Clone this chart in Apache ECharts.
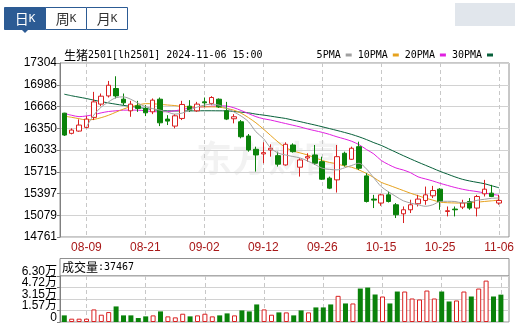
<!DOCTYPE html>
<html><head><meta charset="utf-8">
<script src="https://cdn.jsdelivr.net/npm/echarts@6/dist/echarts.min.js"></script>
<style>html,body{margin:0;padding:0;background:#fff}#c{width:517px;height:329px}</style>
</head><body><div id="c"></div>
<script>
const dates = ['08-06','08-07','08-08','08-09','08-12','08-13','08-14','08-15','08-16','08-19','08-20','08-21','08-22','08-23','08-26','08-27','08-28','08-29','08-30',
'09-02','09-03','09-04','09-05','09-06','09-09','09-10','09-11','09-12','09-13','09-18','09-19','09-20','09-23','09-24','09-25','09-26','09-27','09-30',
'10-08','10-09','10-10','10-11','10-14','10-15','10-16','10-17','10-18','10-21','10-22','10-23','10-24','10-25','10-28','10-29','10-30','10-31',
'11-01','11-04','11-05','11-06'];
const openP  = [16571,16276,16309,16363,16509,16703,16823,16931,16775,16605,16678,16640,16590,16775,16484,16382,16494,16673,16605,16736,16713,16775,16605,16489,16445,16237,16043,15975,16033,15950,15814,16106,15781,15916,15960,15862,15621,15596,15985,15897,16081,15654,15315,15257,15377,15232,15100,15159,15247,15295,15363,15460,15134,15169,15198,15280,15184,15392,15402,15257];
const closeP = [16251,16324,16397,16484,16736,16819,16979,16823,16722,16703,16640,16576,16761,16430,16455,16532,16698,16615,16703,16722,16800,16663,16484,16518,16226,16033,15960,15994,16058,15825,16116,16008,15887,15935,15839,15606,15475,15935,15814,16058,15766,15280,15300,15377,15280,15086,15159,15232,15315,15377,15440,15280,15145,15159,15257,15184,15353,15460,15353,15295];
const lowP   = [16237,16261,16299,16349,16470,16673,16800,16786,16688,16518,16590,16528,16557,16382,16397,16349,16470,16590,16590,16663,16688,16649,16470,16422,16203,16008,15717,15839,15935,15790,15804,15994,15644,15862,15814,15596,15461,15411,15790,15887,15742,15265,15184,15217,15265,15038,14965,15111,15207,15232,15330,15159,15062,15062,15169,15159,15062,15353,15344,15232];
const highP  = [16576,16349,16480,16528,16882,16858,17042,17110,16858,16751,16751,16688,16786,16800,16542,16557,16751,16761,16736,16800,16819,16786,16736,16557,16470,16266,16081,16145,16116,16008,16145,16130,15912,15985,16106,15935,15644,16106,16008,16081,16154,15693,15377,15392,15426,15257,15207,15305,15377,15498,15508,15475,15207,15207,15305,15330,15377,15596,15523,15377];
const ma5  = [null,null,null,16372,16542,16659,16736,16797,16809,16775,16717,16666,16637,16615,16586,16557,16572,16615,16659,16688,16703,16688,16644,16590,16528,16445,16299,16203,16062,15989,15960,15938,15916,15873,15822,15766,15749,15742,15771,15807,15839,15756,15625,15498,15421,15353,15290,15257,15232,15210,15232,15280,15283,15280,15261,15268,15297,15312,15327,15330];
const ma10 = [16528,16510,16490,16472,16480,16505,16540,16585,16630,16665,16690,16710,16708,16700,16690,16682,16668,16663,16663,16663,16663,16660,16640,16615,16570,16505,16430,16340,16245,16150,16070,16020,15990,15960,15920,15880,15850,15830,15800,15780,15740,15690,15630,15560,15520,15480,15440,15400,15365,15330,15300,15270,15262,15258,15256,15260,15270,15280,15290,15300];
const ma20 = [16567,16540,16520,16530,16550,16575,16595,16605,16615,16615,16615,16605,16595,16590,16595,16605,16625,16645,16660,16665,16672,16678,16675,16650,16610,16565,16520,16490,16470,16445,16420,16395,16370,16340,16315,16290,16260,16225,16195,16160,16110,16040,15975,15880,15820,15770,15740,15700,15640,15610,15580,15545,15515,15485,15460,15440,15425,15405,15385,15370];
const ma30 = [16848,16825,16805,16785,16761,16740,16720,16702,16685,16670,16655,16640,16622,16610,16605,16603,16603,16604,16605,16606,16606,16605,16605,16595,16585,16576,16557,16543,16527,16510,16494,16470,16447,16422,16398,16372,16345,16318,16290,16260,16225,16185,16140,16100,16050,16000,15950,15902,15855,15810,15765,15720,15680,15640,15605,15580,15560,15540,15510,15480];
const volume = [9070,4540,4540,4540,17240,9980,13600,21320,9070,9070,5440,7710,9070,14515,7710,6350,11340,7710,9070,11340,7710,9070,11790,9070,15880,14515,24040,17240,9980,13150,13150,9070,15880,13150,19960,19960,24040,35830,25400,25400,45810,47170,37650,34930,25400,41730,41730,32200,30840,43090,32200,41730,28120,29480,41730,34930,45810,56700,34930,37467];
const volUp = [0,1,1,1,1,1,1,0,0,0,0,0,1,0,1,1,1,0,1,1,1,0,0,1,0,0,0,1,1,0,1,0,0,1,0,0,0,1,0,1,0,0,0,1,0,0,1,1,1,1,1,0,0,1,1,0,1,1,0,0];
const priceTicks = ['14761','15079','15397','15715','16033','16350','16668','16986','17304'];
const volTicks = ['0','1.57万','3.15万','4.72万','6.30万'];
const maNames = ['5PMA','10PMA','20PMA','30PMA'];
const tabs = ['日','周','月'];
const contractName = '生猪';
const contractCode = '2501[lh2501] 2024-11-06 15:00';
const volLabel = '成交量';
const lastVolume = 37467;

const RED = '#d92020', GREEN = '#0a820a';
const maColors = ['#a0a0a0','#e6a21e','#e020e0','#07603a'];
const MONO = '"DejaVu Sans Mono", monospace';
const CJK = '"Noto Sans CJK SC", sans-serif';
const showIdx = (i) => (i - 3) % 8 === 0;

const chart = echarts.init(document.getElementById('c'), null, {renderer:'canvas'});

const candleData = dates.map((d,i)=>[openP[i], closeP[i], lowP[i], highP[i]]);
const volData = volume.map((v,i)=> volUp[i]
  ? {value:v, itemStyle:{color:'#fff', borderColor:RED, borderWidth:1}}
  : {value:v, itemStyle:{color:GREEN, borderColor:GREEN, borderWidth:0}});

const maSeries = [ma5, ma10, ma20, ma30].map((arr,k)=>({
  name: maNames[k], type:'line', xAxisIndex:1, yAxisIndex:1, data: arr,
  symbol:'none', smooth:0.3, lineStyle:{width:1, color:maColors[k]}, itemStyle:{color:maColors[k]},
  z: 3 + (3-k)
}));

const tabGraphics = [];
tabs.forEach((t,k)=>{
  const x0 = 4.5 + k*41;
  const sel = k===0;
  tabGraphics.push({type:'rect', shape:{x:x0, y:7.5, width:41, height:22}, style:{fill: sel?'#2c5b94':'#fff', stroke:'#2c5b94', lineWidth:1}});
  tabGraphics.push({type:'text', x:x0+20.5, y:19, style:{text:'{a|'+t+'}{b|K}', align:'center', verticalAlign:'middle',
    rich:{a:{fontFamily:CJK, fontSize:14, fill: sel?'#fff':'#333'}, b:{fontFamily:MONO, fontSize:11, fill: sel?'#fff':'#333'}}}});
});
tabGraphics.push({type:'polygon', shape:{points:[[21.5,29.5],[28.5,29.5],[25,33]]}, style:{fill:'#2c5b94'}});

const volAxisLabel = (parity) => ({
  formatter:(v)=> (v % 2 === parity ? volTicks[v] : ''),
  color:'#000', fontFamily:'"Liberation Sans", "Noto Sans CJK SC", Arial', fontSize:12, lineHeight:9,
  verticalAlign:'bottom', margin:3, showMinLabel:true, showMaxLabel:true, hideOverlap:false
});

chart.setOption({
  animation:false,
  backgroundColor:'#fff',
  title:{
    text:'{a|'+contractName+'}{b|'+contractCode+'}', left:59, top:44,
    textStyle:{fontWeight:'normal', rich:{a:{fontFamily:CJK, fontSize:12, color:'#000', fontWeight:'normal'}, b:{fontFamily:MONO, fontSize:10, color:'#000', fontWeight:'normal'}}}
  },
  legend:{
    data: maNames, right:19, top:45, align:'right', icon:'rect', itemWidth:6, itemHeight:3, itemGap:6,
    textStyle:{fontFamily:MONO, fontSize:10, color:'#000'}, selectedMode:false
  },
  graphic: [
    ...tabGraphics,
    {type:'rect', shape:{x:455, y:3, width:60, height:23}, style:{fill:'#e1e6ec'}},
    {type:'text', x:268, y:158, style:{text:'东方财富', fontFamily:CJK, fontSize:36, fontWeight:'bold', fill:'rgba(0,0,0,0.05)', align:'center', verticalAlign:'middle'}, z:-1},
    {type:'rect', shape:{x:60, y:258.5, width:449, height:17.5}, style:{fill:'none', stroke:'#909090', lineWidth:1}},
    {type:'text', x:62, y:267.5, style:{text:'{a|'+volLabel+'}{b|:'+lastVolume+'}', verticalAlign:'middle',
      rich:{a:{fontFamily:CJK, fontSize:12, fill:'#000'}, b:{fontFamily:MONO, fontSize:10, fill:'#000'}}}}
  ],
  grid:[
    {left:60, right:8, top:63, height:174, show:true, borderColor:'#909090', borderWidth:1, backgroundColor:'transparent'},
    {left:64.3, width:436.6, top:63, height:174},
    {left:60, right:8, top:276, height:46, show:true, borderColor:'#909090', borderWidth:1, backgroundColor:'transparent'},
    {left:64.3, width:436.6, top:276, height:46}
  ],
  xAxis:[
    {gridIndex:0, type:'value', min:0, max:1, show:false},
    {gridIndex:1, type:'category', data:dates, boundaryGap:false,
      axisLine:{show:false}, axisTick:{show:false},
      axisLabel:{interval:(i)=>showIdx(i), color:'#a81818', fontFamily:'"Liberation Sans", Arial', fontSize:12, margin:5},
      splitLine:{show:true, interval:(i)=>showIdx(i), lineStyle:{color:'#c8c8c8', type:[4,3], width:1}}},
    {gridIndex:2, type:'value', min:0, max:1, show:false},
    {gridIndex:3, type:'category', data:dates, boundaryGap:false,
      axisLine:{show:false}, axisTick:{show:false}, axisLabel:{show:false},
      splitLine:{show:true, interval:(i)=>showIdx(i), lineStyle:{color:'#c8c8c8', type:[4,3], width:1}}}
  ],
  yAxis:[
    {gridIndex:0, type:'value', min:0, max:priceTicks.length-1, interval:1,
      axisLine:{show:true, lineStyle:{color:'#808080'}}, axisTick:{show:true, length:3, lineStyle:{color:'#808080'}},
      axisLabel:{formatter:(v)=>priceTicks[v], color:'#000', fontFamily:'"Liberation Sans", Arial', fontSize:12, margin:3, showMinLabel:true, showMaxLabel:true},
      splitLine:{show:true, lineStyle:{color:'#d2d2d2', width:1}}},
    {gridIndex:1, type:'value', min:14761, max:17304, show:false, splitLine:{show:false}},
    {gridIndex:2, type:'value', min:0, max:volTicks.length-1, interval:1, position:'left',
      axisLine:{show:true, lineStyle:{color:'#808080'}}, axisTick:{show:true, length:3, lineStyle:{color:'#808080'}},
      axisLabel: volAxisLabel(0),
      splitLine:{show:true, lineStyle:{color:'#d2d2d2', width:1}}},
    {gridIndex:3, type:'value', min:0, max:63000, show:false, splitLine:{show:false}},
    {gridIndex:2, type:'value', min:0, max:volTicks.length-1, interval:1, position:'left', offset:0,
      axisLine:{show:false}, axisTick:{show:false},
      axisLabel: volAxisLabel(1),
      splitLine:{show:false}}
  ],
  series:[
    {type:'candlestick', xAxisIndex:1, yAxisIndex:1, data:candleData, barWidth:5, clip:false, z:5,
      itemStyle:{color:'#fff', color0:GREEN, borderColor:RED, borderColor0:GREEN, borderWidth:1}},
    ...maSeries,
    {type:'bar', xAxisIndex:3, yAxisIndex:3, data:volData, barWidth:5, clip:false}
  ]
});
</script></body></html>
